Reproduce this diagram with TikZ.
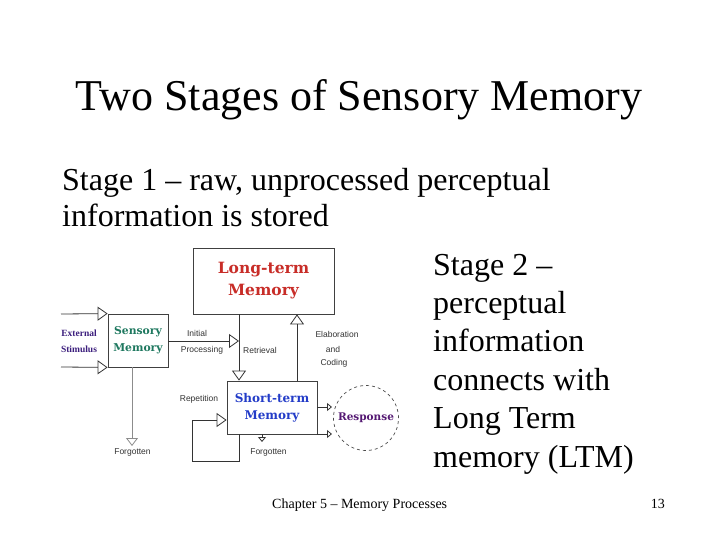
\documentclass[tikz,border=0pt]{standalone}
\usepackage{fontspec}
\setmainfont{Liberation Serif}
\newfontfamily\lblfont{Liberation Sans}
\newfontfamily\boxfont{DejaVu Serif}
\usetikzlibrary{arrows.meta}
\definecolor{ltmred}{RGB}{200,45,40}
\definecolor{smgreen}{RGB}{30,120,95}
\definecolor{stmblue}{RGB}{35,60,200}
\definecolor{resppurple}{RGB}{85,25,115}
\definecolor{extpurple}{RGB}{60,30,125}
\begin{document}
\begin{tikzpicture}[x=1pt,y=-1pt,
  bigtri/.style={-{Triangle[open,length=10pt,width=14pt]}},
  medtri/.style={-{Triangle[open,length=8pt,width=12pt]}},
  smalltri/.style={-{Triangle[open,length=5pt,width=8pt]}},
  conn/.style={draw=black!80, line width=0.8pt},
  box/.style={draw=black!75, line width=0.8pt, inner sep=0, fill=white, align=center},
  txt/.style={inner sep=0, anchor=base west},
  lbl/.style={inner sep=0, font=\lblfont\fontsize{8.5}{9}\selectfont, text=black!80},
  extlbl/.style={inner sep=0, font=\bfseries\fontsize{9.5}{10}\selectfont, text=extpurple}]
\useasboundingbox (0,0) rectangle (720,540);
\fill[white] (0,0) rectangle (720,540);

% titles and text
\node[txt, anchor=base] (title) at (359,111) {\fontsize{44}{50}\selectfont Two Stages of Sensory Memory};
\node[txt] (s1a) at (62,191) {\fontsize{32}{36}\selectfont Stage 1 – raw, unprocessed perceptual};
\node[txt] (s1b) at (62,226) {\fontsize{32}{36}\selectfont information is stored};
\node[txt] (s2a) at (433,275) {\fontsize{32}{36}\selectfont Stage 2 –};
\node[txt] (s2b) at (433,313.4) {\fontsize{32}{36}\selectfont perceptual};
\node[txt] (s2c) at (433,351.8) {\fontsize{32}{36}\selectfont information};
\node[txt] (s2d) at (433,390.2) {\fontsize{32}{36}\selectfont connects with};
\node[txt] (s2e) at (433,428.6) {\fontsize{32}{36}\selectfont Long Term};
\node[txt] (s2f) at (433,467) {\fontsize{32}{36}\selectfont memory (LTM)};
\node[txt] (foot) at (272,508) {\fontsize{14}{16}\selectfont Chapter 5 – Memory Processes};
\node[txt, anchor=base east] (pnum) at (665,508) {\fontsize{14}{16}\selectfont 13};

% boxes
\node[box, minimum width=60pt, minimum height=53pt, text=smgreen,
      font=\boxfont\bfseries\fontsize{10.8}{17}\selectfont] (sm) at (138,340.5) {Sensory\\Memory};
\node[box, minimum width=141pt, minimum height=66pt, text=ltmred,
      font=\boxfont\bfseries\fontsize{15.5}{22}\selectfont] (ltm) at (263.5,281) {Long-term\\Memory};
\node[box, minimum width=90pt, minimum height=53pt, text=stmblue,
      font=\boxfont\bfseries\fontsize{12}{17}\selectfont] (stm) at (272,407.5) {Short-term\\Memory};
\node[draw=black!70, dashed, line width=0.7pt, circle, minimum size=65pt, inner sep=0,
      text=resppurple, font=\boxfont\bfseries\fontsize{10.5}{11}\selectfont] (resp) at (366,418) {Response};

% coordinates
\coordinate (ein1) at (61,314);
\coordinate (ein2) at (61,367);
\coordinate (rj) at (239,341);
\coordinate (ej) at (297,341);
\coordinate (sf) at (132,446);
\coordinate (rep1) at (239,461);
\coordinate (rep2) at (192,461);
\coordinate (rep3) at (192,420);
\coordinate (stf) at (262,442);
\coordinate (r1) at (332,407);
\coordinate (r2) at (332,434);

% connectors
\draw[conn, bigtri] (ein1) -- (sm.north west);
\draw[conn, bigtri] (ein2) -- (sm.south west);
\draw[conn, bigtri] (sm.east |- rj) -- (rj);
\draw[conn, bigtri] (rj |- ltm.south) -- (rj |- stm.north);
\draw[conn, bigtri] (ej |- stm.north) -- (ej |- ltm.south);
\draw[conn, draw=black!45, medtri] (sf |- sm.south) -- (sf);
\draw[conn, bigtri] (rep1 |- stm.south) -- (rep1) -- (rep2) -- (rep3) -- (rep3 -| stm.west);
\draw[conn, smalltri] (stf |- stm.south) -- (stf);
\draw[conn, smalltri] (r1 -| stm.east) -- (r1);
\draw[conn, smalltri] (r2 -| stm.east) -- (r2);

% labels
\node[extlbl] (l-ext) at (79,333) {External};
\node[extlbl] (l-stim) at (79,349) {Stimulus};
\node[lbl] (l-init) at (197,333) {Initial};
\node[lbl] (l-proc) at (202,350) {Processing};
\node[lbl] (l-retr) at (260,350) {Retrieval};
\node[lbl] (l-elab) at (337,334) {Elaboration};
\node[lbl] (l-and) at (333,349) {and};
\node[lbl] (l-cod) at (334,363) {Coding};
\node[lbl] (l-rep) at (199,399) {Repetition};
\node[lbl] (l-f1) at (132.5,452) {Forgotten};
\node[lbl] (l-f2) at (268.5,452) {Forgotten};
\end{tikzpicture}
\end{document}
